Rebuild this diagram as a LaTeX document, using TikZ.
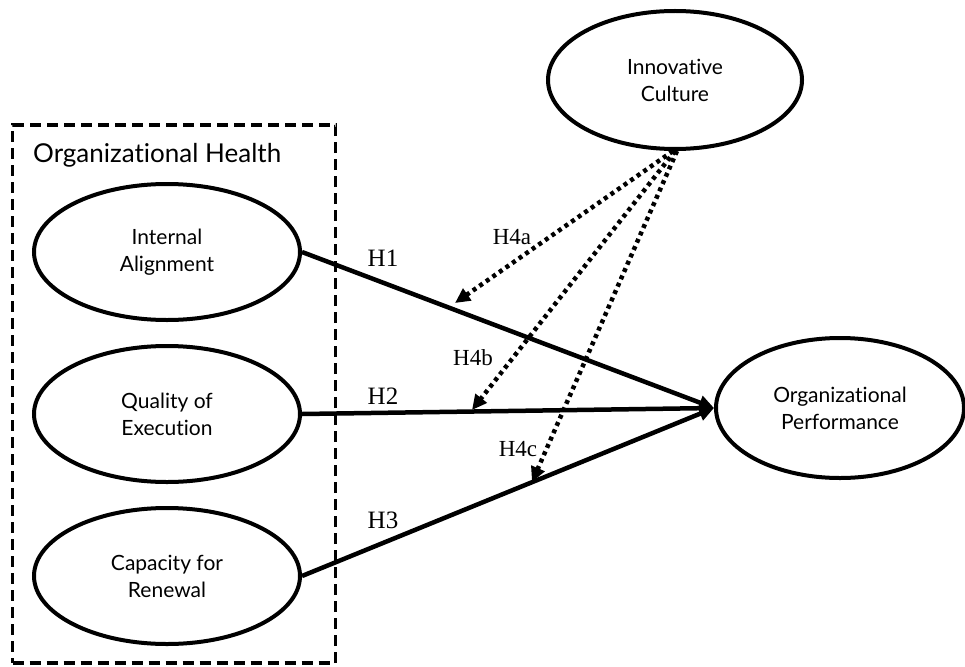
\documentclass[tikz,border=0pt]{standalone}
\usepackage{fontspec}
\setmainfont{Lato}[Ligatures=NoCommon]
\newfontfamily\labfont{Liberation Serif}
\usetikzlibrary{shapes.geometric,arrows.meta}
\begin{document}
\begin{tikzpicture}[x=1pt,y=-1pt,
  latent/.style={ellipse,draw,line width=4pt,minimum width=266pt,minimum height=136pt,
    align=center,font=\fontsize{21}{27}\selectfont,inner sep=0pt},
  hpath/.style={line width=4.5pt,-{Triangle[length=15pt,width=14pt]}},
  modpath/.style={line width=4.5pt,dash pattern=on 4pt off 4pt,-{Triangle[length=15pt,width=14pt]}},
  hlab/.style={font=\labfont\fontsize{25}{25}\selectfont,inner sep=0pt},
  mlab/.style={font=\labfont\fontsize{23}{23}\selectfont,inner sep=0pt}]
\path[use as bounding box] (0,0) rectangle (965,666);
\node[draw,line width=3.5pt,dash pattern=on 11pt off 6pt,minimum width=323pt,minimum height=538pt,inner sep=0pt] (box) at (174,394) {};
\node[anchor=west,font=\fontsize{26}{26}\selectfont,inner sep=0pt] (title) at (33,155) {Organizational Health};
\node[latent] (IA) at (167,252) {Internal\\Alignment};
\node[latent] (QE) at (167,414) {Quality of\\Execution};
\node[latent] (CR) at (167,576) {Capacity for\\Renewal};
\node[latent,minimum width=254pt,minimum height=138pt] (IC) at (675,80) {Innovative\\Culture};
\node[latent,minimum width=248pt,minimum height=140pt] (OP) at (840,408) {Organizational\\Performance};
\coordinate (t4a) at (455,303);
\coordinate (t4b) at (472,410);
\coordinate (t4c) at (532,482);
\draw[hpath] (IA.east) -- (OP.west);
\draw[hpath] (QE.east) -- (OP.west);
\draw[hpath] (CR.east) -- (OP.west);
\draw[modpath] ([xshift=-2pt]IC.south) -- (t4a);
\draw[modpath] (IC.south) -- (t4b);
\draw[modpath] ([xshift=2pt]IC.south) -- (t4c);
\node[hlab] (h1) at (383,258) {H1};
\node[hlab] (h2) at (383,396) {H2};
\node[hlab] (h3) at (383,520) {H3};
\node[mlab] (h4a) at (512,237) {H4a};
\node[mlab] (h4b) at (473,358) {H4b};
\node[mlab] (h4c) at (518,449) {H4c};
\end{tikzpicture}
\end{document}
